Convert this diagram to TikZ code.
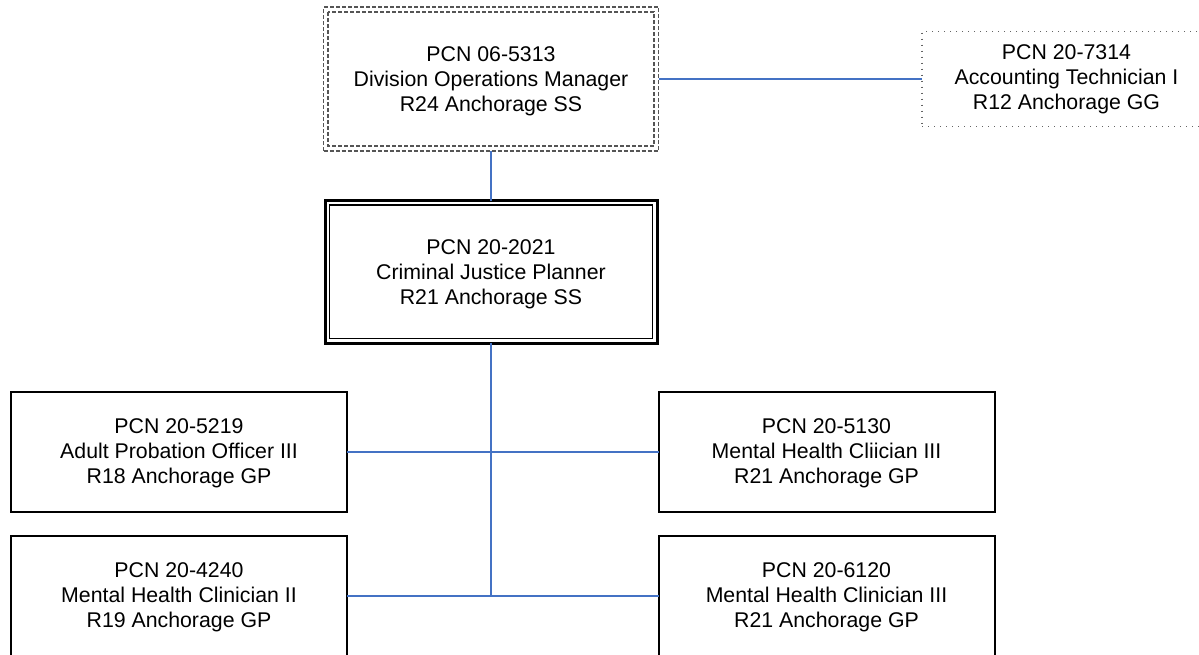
\documentclass[tikz,border=0pt]{standalone}
\usepackage{fontspec}
\setmainfont{Liberation Sans}
\definecolor{linkblue}{RGB}{68,114,196}
\definecolor{dashgray}{RGB}{85,85,85}
\definecolor{dotgray}{RGB}{100,100,100}
\tikzset{
  txt/.style={font={\fontsize{21.3}{25}\selectfont}, align=center, inner sep=0pt, outer sep=0pt},
  plainbox/.style={draw=black, line width=2pt, minimum width=336pt, minimum height=120pt, inner sep=0pt, outer sep=0pt},
  dashbox/.style={draw=dashgray, line width=1.3pt, dash pattern=on 4pt off 2pt},
  dotbox/.style={draw=dotgray, line width=1.4pt, dash pattern=on 1.4pt off 4.6pt, minimum width=288pt, minimum height=95pt, inner sep=0pt, outer sep=0pt},
  outerdbl/.style={draw=black, line width=3pt, minimum width=332pt, minimum height=142.5pt, inner sep=0pt, outer sep=0pt},
  innerdbl/.style={draw=black, line width=1.3pt},
  link/.style={draw=linkblue, line width=1.6pt}
}
\begin{document}
\begin{tikzpicture}[x=1pt,y=-1pt]
\useasboundingbox (0,0) rectangle (1199,654);
\clip (0,0) rectangle (1199,654);
% top box (double dashed)
\node[dashbox, minimum width=335pt, minimum height=144pt, inner sep=0pt, outer sep=0pt] (dom) at (491,79) {};
\draw[dashbox] ([shift={(4.5pt,-5pt)}]dom.north west) rectangle ([shift={(-4.5pt,5pt)}]dom.south east);
\node[txt] (domt) at ([yshift=-2.5pt]dom.center) {PCN 06-5313\\Division Operations Manager\\R24 Anchorage SS};
% dotted box
\node[dotbox] (act) at (1066,79) {};
\node[txt] (actt) at ([xshift=0.5pt,yshift=-0.5pt]act.center) {PCN 20-7314\\Accounting Technician I\\R12 Anchorage GG};
% middle box (double line)
\node[outerdbl] (cjp) at (491,271.75) {};
\draw[innerdbl] ([shift={(4.5pt,-4.5pt)}]cjp.north west) rectangle ([shift={(-4.5pt,4.5pt)}]cjp.south east);
\node[txt] (cjpt) at ([yshift=-3pt]cjp.center) {PCN 20-2021\\Criminal Justice Planner\\R21 Anchorage SS};
% bottom boxes
\node[plainbox] (apo) at (179,452) {};
\node[txt] (apot) at ([yshift=-1.5pt]apo.center) {PCN 20-5219\\Adult Probation Officer III\\R18 Anchorage GP};
\node[plainbox] (mhc1) at (826.5,452) {};
\node[txt] (mhc1t) at ([yshift=-1.5pt]mhc1.center) {PCN 20-5130\\Mental Health Cliician III\\R21 Anchorage GP};
\node[plainbox] (mhc2) at (179,596) {};
\node[txt] (mhc2t) at ([yshift=-1.5pt]mhc2.center) {PCN 20-4240\\Mental Health Clinician II\\R19 Anchorage GP};
\node[plainbox] (mhc3) at (826.5,596) {};
\node[txt] (mhc3t) at ([yshift=-1.5pt]mhc3.center) {PCN 20-6120\\Mental Health Clinician III\\R21 Anchorage GP};
\coordinate (j2) at (491,596);
% connectors
\draw[link] (dom.east) -- (act.west);
\draw[link] (dom.south) -- (cjp.north);
\draw[link] (cjp.south) -- (j2);
\draw[link] (apo.east) -- (mhc1.west);
\draw[link] (mhc2.east) -- (mhc3.west);
\end{tikzpicture}
\end{document}
